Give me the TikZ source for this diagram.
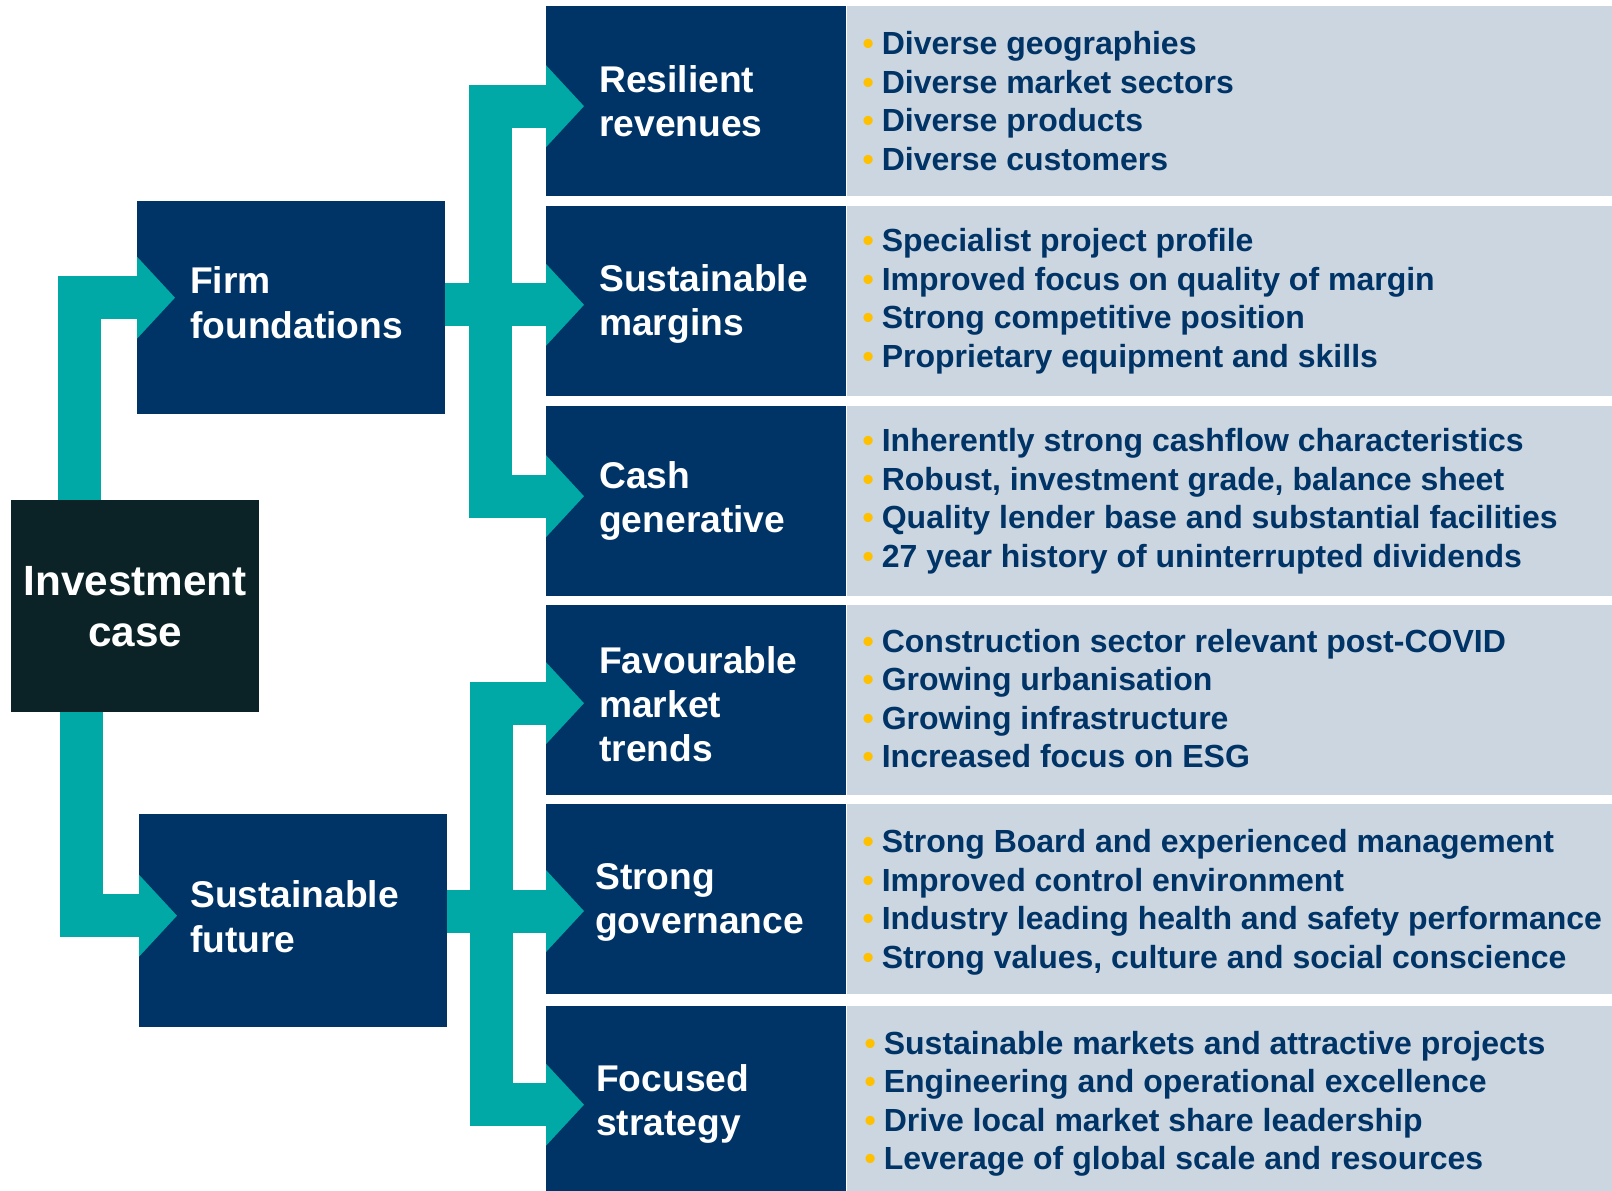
\documentclass[tikz,border=0pt]{standalone}
\usepackage{fontspec}
\setmainfont{Liberation Sans}
\usetikzlibrary{positioning,calc,arrows.meta}

\definecolor{boxblue}{RGB}{0,51,102}
\definecolor{casebg}{RGB}{11,34,38}
\definecolor{arrowteal}{RGB}{0,169,165}
\definecolor{panelgrey}{RGB}{203,214,224}
\definecolor{dotgold}{RGB}{255,192,0}

\newcommand{\dotline}[1]{{\color{dotgold}\textbullet}\hspace{8pt}#1}

\begin{document}
\begin{tikzpicture}[x=1pt, y=-1pt,
    casebox/.style={fill=casebg, anchor=north west, minimum width=248pt, minimum height=212pt, inner sep=0pt,
        text=white, align=center, font=\bfseries\fontsize{42.3}{51}\selectfont},
    head/.style={fill=boxblue, anchor=north west, minimum width=300pt, minimum height=190pt, inner sep=0pt},
    panel/.style={fill=panelgrey, minimum width=766pt, minimum height=190pt, inner sep=0pt},
    title/.style={text=white, align=left, inner sep=0pt, font=\bfseries\fontsize{37.2}{44.3}\selectfont},
    points/.style={text=boxblue, align=left, inner sep=0pt, font=\bfseries\fontsize{32}{38.5}\selectfont},
    link/.style={draw=arrowteal, line width=43pt, line join=miter,
        -{Triangle[length=38pt, width=82pt, line width=0pt]}, shorten >=-38pt}]
    \useasboundingbox (0, 0) rectangle (1612, 1191);

    \node[casebox] (inv) at (11, 500) {Investment\\case};
    \node[head, minimum width=308pt, minimum height=213pt] (firm) at (137, 201) {};
    \node[head, minimum width=308pt, minimum height=213pt] (fut) at (139, 814) {};
    \node[title, right=53pt of firm.west, yshift=5pt] (firm-t) {Firm\\foundations};
    \node[title, right=51pt of fut.west, yshift=4pt] (fut-t) {Sustainable\\future};

    \node[head] (rev) at (546, 6) {};
    \node[head] (mar) at (546, 206) {};
    \node[head] (cash) at (546, 406) {};
    \node[head] (trend) at (546, 605) {};
    \node[head] (gov) at (546, 804) {};
    \node[head, minimum height=185pt] (strat) at (546, 1006) {};

    \node[panel, right=0pt of rev] (rev-p) {};
    \node[panel, right=0pt of mar] (mar-p) {};
    \node[panel, right=0pt of cash] (cash-p) {};
    \node[panel, right=0pt of trend] (trend-p) {};
    \node[panel, right=0pt of gov] (gov-p) {};
    \node[panel, right=0pt of strat, minimum height=185pt] (strat-p) {};

    \node[title, right=53pt of rev.west] (rev-t) {Resilient\\revenues};
    \node[title, right=53pt of mar.west, yshift=-3pt] (mar-t) {Sustainable\\margins};
    \node[title, right=53pt of cash.west] (cash-t) {Cash\\generative};
    \node[title, right=53pt of trend.west, yshift=-4pt] (trend-t) {Favourable\\market\\trends};
    \node[title, right=49pt of gov.west, yshift=-3pt] (gov-t) {Strong\\governance};
    \node[title, right=50pt of strat.west, yshift=-5pt] (strat-t) {Focused\\strategy};

    \node[points, right=16pt of rev-p.west] (rev-l) {\dotline{Diverse geographies}\\\dotline{Diverse market sectors}\\
        \dotline{Diverse products}\\\dotline{Diverse customers}};
    \node[points, right=16pt of mar-p.west] (mar-l) {\dotline{Specialist project profile}\\\dotline{Improved focus on quality of margin}\\
        \dotline{Strong competitive position}\\\dotline{Proprietary equipment and skills}};
    \node[points, right=16pt of cash-p.west] (cash-l) {\dotline{Inherently strong cashflow characteristics}\\
        \dotline{Robust, investment grade, balance sheet}\\\dotline{Quality lender base and substantial facilities}\\
        \dotline{27 year history of uninterrupted dividends}};
    \node[points, right=16pt of trend-p.west, yshift=1.5pt] (trend-l) {\dotline{Construction sector relevant post-COVID}\\
        \dotline{Growing urbanisation}\\\dotline{Growing infrastructure}\\\dotline{Increased focus on ESG}};
    \node[points, right=16pt of gov-p.west, yshift=-3pt] (gov-l) {\dotline{Strong Board and experienced management}\\
        \dotline{Improved control environment}\\\dotline{Industry leading health and safety performance}\\
        \dotline{Strong values, culture and social conscience}};
    \node[points, right=18pt of strat-p.west, yshift=-5pt] (strat-l) {\dotline{Sustainable markets and attractive projects}\\
        \dotline{Engineering and operational excellence}\\\dotline{Drive local market share leadership}\\
        \dotline{Leverage of global scale and resources}};

    \coordinate (ja) at ($(firm.east)!0.45!(mar.west)$);
    \coordinate (jb) at ($(fut.east)!0.45!(gov.west)$);

    \draw[link] ($(inv.north west)+(68,0)$) |- ($(firm.west)+(0,-10)$);
    \draw[link] ($(inv.south west)+(70,0)$) |- ($(fut.west)+(0,-5)$);
    \draw[link] (firm.east |- ja) -- (mar.west |- ja);
    \draw[link] (ja) |- ($(rev.west)+(0,5)$);
    \draw[link] (ja) |- ($(cash.west)+(0,-5)$);
    \draw[link] (fut.east |- jb) -- (gov.west |- jb);
    \draw[link] (jb) |- ($(trend.west)+(0,3)$);
    \draw[link] (jb) |- ($(strat.west)+(0,6)$);
\end{tikzpicture}
\end{document}
